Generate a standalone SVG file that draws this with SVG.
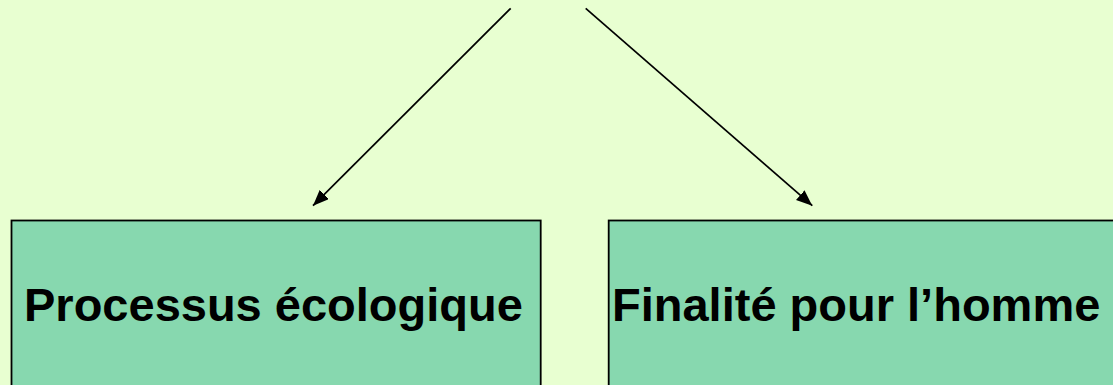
<svg xmlns="http://www.w3.org/2000/svg" width="1113" height="385" viewBox="0 0 1113 385">
  <style>
    .box { fill: #87D8AF; stroke: #000000; stroke-width: 1.8; }
    .label { font-family: "Liberation Sans", Arial, sans-serif; font-weight: bold; font-size: 47px; fill: #000000; }
    .conn { stroke: #000000; stroke-width: 1.7; fill: none; marker-end: url(#arrow); }
  </style>
  <defs>
    <marker id="arrow" markerUnits="userSpaceOnUse" markerWidth="18" markerHeight="14" refX="16" refY="6.5" orient="auto">
      <path d="M0,0 L16,6.5 L0,13 z" fill="#000000"/>
    </marker>
  </defs>
  <rect x="0" y="0" width="1113" height="385" fill="#E8FFD1"/>
  <g id="connectors">
    <line class="conn" x1="510.7" y1="8.3" x2="313" y2="205.7"/>
    <line class="conn" x1="585.7" y1="8.3" x2="812.3" y2="205.7"/>
  </g>
  <g id="node-processus">
    <rect class="box" x="11.5" y="220.5" width="529.2" height="200"/>
    <text class="label" x="24" y="321">Processus écologique</text>
  </g>
  <g id="node-finalite">
    <rect class="box" x="608.7" y="220.5" width="540" height="200"/>
    <text class="label" x="612" y="321">Finalité pour l’homme</text>
  </g>
</svg>
